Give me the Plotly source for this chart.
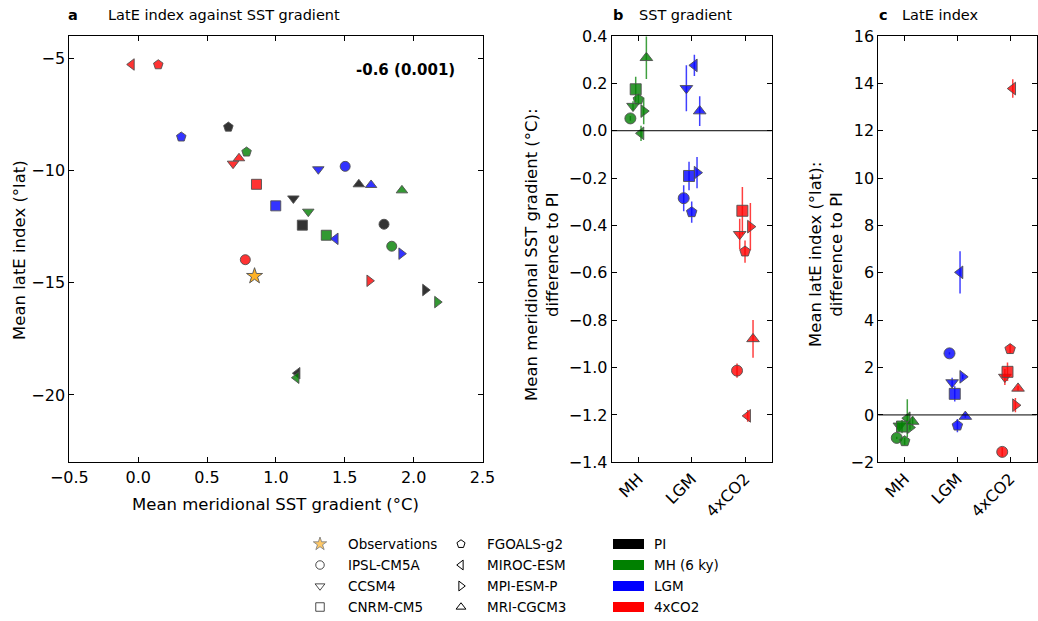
import plotly.graph_objects as go

W, H = 1038, 621
FONT = "DejaVu Sans"

# ---------------- data ----------------
models = ["IPSL-CM5A", "CCSM4", "CNRM-CM5", "FGOALS-g2", "MIROC-ESM", "MPI-ESM-P", "MRI-CGCM3"]
experiments = ["PI", "MH (6 ky)", "LGM", "4xCO2"]
categories = ["MH", "LGM", "4xCO2"]

# Panel a: mean meridional SST gradient (°C) and mean latE index (°lat), per model
a_grad_PI = [1.785, 1.127, 1.192, 0.655, 1.156, 2.084, 1.602]
a_late_PI = [-12.39, -11.24, -12.43, -8.06, -19.03, -15.32, -10.61]
a_grad_MH = [1.841, 1.235, 1.366, 0.787, 1.149, 2.171, 1.915]
a_late_MH = [-13.37, -11.83, -12.88, -9.17, -19.23, -15.86, -10.88]
a_grad_LGM = [1.503, 1.308, 0.999, 0.313, 1.433, 1.911, 1.691]
a_late_LGM = [-9.81, -9.94, -11.57, -8.50, -13.04, -13.70, -10.64]
a_grad_4x = [0.778, 0.689, 0.859, 0.146, -0.047, 1.679, 0.732]
a_late_4x = [-13.97, -9.69, -10.61, -5.28, -5.27, -14.91, -9.45]
obs_grad = [0.845]
obs_late = [-14.70]
corr_text = "-0.6 (0.001)"

# Panel b: SST gradient difference to PI (°C) and its uncertainty
b_MH = [0.052, 0.104, 0.175, 0.132, -0.011, 0.083, 0.308]
b_MH_err = [0.01, 0.02, 0.053, 0.02, 0.032, 0.056, 0.09]
b_LGM = [-0.285, 0.179, -0.191, -0.344, 0.276, -0.177, 0.083]
b_LGM_err = [0.055, 0.097, 0.06, 0.045, 0.045, 0.066, 0.063]
b_4x = [-1.013, -0.437, -0.338, -0.51, -1.204, -0.405, -0.879]
b_4x_err = [0.03, 0.065, 0.1, 0.047, 0.025, 0.1, 0.08]

# Panel c: latE index difference to PI (°lat) and its uncertainty
c_MH = [-0.97, -0.46, -0.49, -1.11, -0.14, -0.53, -0.28]
c_MH_err = [0.05, 0.1, 0.28, 0.15, 0.8, 0.1, 0.2]
c_LGM = [2.6, 1.37, 0.89, -0.45, 6.02, 1.61, -0.07]
c_LGM_err = [0.05, 0.2, 0.32, 0.28, 0.89, 0.1, 0.05]
c_4x = [-1.56, 1.6, 1.82, 2.78, 13.78, 0.41, 1.12]
c_4x_err = [0.2, 0.34, 0.39, 0.2, 0.39, 0.3, 0.1]

# ---------------- styles ----------------
symbols = ["circle", "triangle-down", "square", "pentagon", "triangle-left", "triangle-right", "triangle-up"]
fill = {"PI": "rgba(0,0,0,0.8)", "MH (6 ky)": "rgba(0,128,0,0.8)",
        "LGM": "rgba(0,0,255,0.8)", "4xCO2": "rgba(255,0,0,0.8)"}
solid = {"PI": "#000000", "MH (6 ky)": "#008000", "LGM": "#0000ff", "4xCO2": "#ff0000"}
errc = {"MH (6 ky)": "rgba(0,128,0,0.75)", "LGM": "rgba(0,0,255,0.75)", "4xCO2": "rgba(255,0,0,0.75)"}
dodge = [-0.15, -0.10, -0.05, 0.0, 0.05, 0.10, 0.15]
edge = "rgba(80,80,80,0.9)"


def px(x):
    return x / W


def py(y):
    return 1 - y / H


fig = go.Figure()

# Panel a
pa = [("PI", a_grad_PI, a_late_PI), ("MH (6 ky)", a_grad_MH, a_late_MH),
      ("LGM", a_grad_LGM, a_late_LGM), ("4xCO2", a_grad_4x, a_late_4x)]
for exp, gx, ly in pa:
    fig.add_trace(go.Scatter(
        x=gx, y=ly, mode="markers", xaxis="x", yaxis="y", showlegend=False,
        marker=dict(symbol=symbols, size=10, color=fill[exp],
                    line=dict(color=edge, width=1))))
fig.add_trace(go.Scatter(
    x=obs_grad, y=obs_late, mode="markers", xaxis="x", yaxis="y", showlegend=False,
    marker=dict(symbol="star", size=12, color="rgba(255,165,0,0.85)",
                line=dict(color=edge, width=1))))

# Panels b and c
for axn, series in (("2", [("MH (6 ky)", b_MH, b_MH_err), ("LGM", b_LGM, b_LGM_err), ("4xCO2", b_4x, b_4x_err)]),
                    ("3", [("MH (6 ky)", c_MH, c_MH_err), ("LGM", c_LGM, c_LGM_err), ("4xCO2", c_4x, c_4x_err)])):
    for ci, (exp, vals, errs) in enumerate(series):
        xs = [ci + d for d in dodge]
        fig.add_trace(go.Scatter(
            x=xs, y=vals, mode="markers", xaxis="x" + axn, yaxis="y" + axn, showlegend=False,
            error_y=dict(type="data", array=errs, visible=True, color=errc[exp], thickness=1.5, width=0),
            marker=dict(symbol=symbols, size=11, color=fill[exp],
                        line=dict(color=edge, width=1))))

# Legend on an overlay axis measured in pixels
leg_rows = [544, 565, 586, 607]
leg_col1 = ["Observations", "IPSL-CM5A", "CCSM4", "CNRM-CM5"]
leg_sym1 = ["star", "circle-open", "triangle-down-open", "square-open"]
leg_col2 = ["FGOALS-g2", "MIROC-ESM", "MPI-ESM-P", "MRI-CGCM3"]
leg_sym2 = ["pentagon-open", "triangle-left-open", "triangle-right-open", "triangle-up-open"]

fig.add_trace(go.Scatter(
    x=[320] * 4, y=leg_rows, mode="markers", xaxis="x4", yaxis="y4", showlegend=False, hoverinfo="skip",
    marker=dict(symbol=leg_sym1, size=[10, 8.5, 8.5, 8.5],
                color=["rgba(255,165,0,0.85)", "black", "black", "black"],
                line=dict(color=["rgba(80,80,80,0.9)", "black", "black", "black"], width=1))))
fig.add_trace(go.Scatter(
    x=[461] * 4, y=leg_rows, mode="markers", xaxis="x4", yaxis="y4", showlegend=False, hoverinfo="skip",
    marker=dict(symbol=leg_sym2, size=8.5, color="black", line=dict(color="black", width=1))))

LFS = 13.5
annotations = []
shapes = []
for i in range(4):
    annotations.append(dict(x=px(346), y=py(leg_rows[i]), text=leg_col1[i], xanchor="left", yanchor="middle",
                            font=dict(family=FONT, size=LFS, color="black")))
    annotations.append(dict(x=px(485), y=py(leg_rows[i]), text=leg_col2[i], xanchor="left", yanchor="middle",
                            font=dict(family=FONT, size=LFS, color="black")))
    annotations.append(dict(x=px(652), y=py(leg_rows[i]), text=experiments[i], xanchor="left", yanchor="middle",
                            font=dict(family=FONT, size=LFS, color="black")))
    shapes.append(dict(type="rect", xref="paper", yref="paper",
                       x0=px(613), x1=px(644), y0=py(leg_rows[i] + 5), y1=py(leg_rows[i] - 5),
                       fillcolor=solid[experiments[i]], line=dict(width=0)))

# Titles and labels
tfont = dict(family=FONT, size=14.5, color="black")
lfont = dict(family=FONT, size=16.5, color="black")
annotations += [
    dict(x=px(73), y=py(15), text="<b>a</b>", xanchor="center", yanchor="middle", font=tfont),
    dict(x=px(224), y=py(15), text="LatE index against SST gradient", xanchor="center", yanchor="middle", font=tfont),
    dict(x=px(618), y=py(15), text="<b>b</b>", xanchor="center", yanchor="middle", font=tfont),
    dict(x=px(637), y=py(15), text="SST gradient", xanchor="left", yanchor="middle", font=tfont),
    dict(x=px(883), y=py(15), text="<b>c</b>", xanchor="center", yanchor="middle", font=tfont),
    dict(x=px(900), y=py(15), text="LatE index", xanchor="left", yanchor="middle", font=tfont),
    dict(x=px(275), y=py(504), text="Mean meridional SST gradient (°C)", xanchor="center", yanchor="middle", font=lfont),
    dict(x=px(19), y=py(250), text="Mean latE index (°lat)", textangle=-90, xanchor="center", yanchor="middle", font=lfont),
    dict(x=px(542), y=py(255), text="Mean meridional SST gradient (°C):<br>difference to PI", textangle=-90,
         xanchor="center", yanchor="middle", font=lfont),
    dict(x=px(826), y=py(255), text="Mean latE index (°lat):<br>difference to PI", textangle=-90,
         xanchor="center", yanchor="middle", font=lfont),
    dict(x=px(405), y=py(70), text="<b>" + corr_text + "</b>", xanchor="center", yanchor="middle",
         font=dict(family=FONT, size=15, color="black")),
]
for a in annotations:
    a.setdefault("xref", "paper")
    a.setdefault("yref", "paper")
    a.setdefault("showarrow", False)

ax_common = dict(showline=True, linecolor="black", linewidth=1, mirror="ticks", ticks="inside",
                 ticklen=5, tickcolor="black", showgrid=False, zeroline=False, automargin=False,
                 tickfont=dict(family=FONT, size=16, color="black"))

ydom = [py(462.3), py(36)]
fig.update_layout(
    width=W, height=H, margin=dict(l=0, r=0, t=0, b=0, pad=0, autoexpand=False),
    paper_bgcolor="white", plot_bgcolor="rgba(0,0,0,0)", showlegend=False,
    font=dict(family=FONT, color="black"),
    xaxis=dict(domain=[px(69.3), px(482.5)], range=[-0.5, 2.5], dtick=0.5, tickformat=".1f",
               anchor="y", **ax_common),
    yaxis=dict(domain=ydom, range=[-23, -4], tickvals=[-20, -15, -10, -5], anchor="x", **ax_common),
    xaxis2=dict(domain=[px(611.7), px(771.7)], range=[-0.5, 2.5], tickvals=[0, 1, 2], ticktext=categories,
                tickangle=-45, anchor="y2", **ax_common),
    yaxis2=dict(domain=ydom, range=[-1.4, 0.4], dtick=0.2, tickformat=".1f", anchor="x2", **ax_common),
    xaxis3=dict(domain=[px(878.3), px(1036.5)], range=[-0.5, 2.5], tickvals=[0, 1, 2], ticktext=categories,
                tickangle=-45, anchor="y3", **ax_common),
    yaxis3=dict(domain=ydom, range=[-2, 16], dtick=2, anchor="x3", **ax_common),
    xaxis4=dict(domain=[0, 1], range=[0, W], visible=False, anchor="y4", fixedrange=True, automargin=False),
    yaxis4=dict(domain=[0, 1], range=[H, 0], visible=False, anchor="x4", fixedrange=True, automargin=False),
    annotations=annotations,
    shapes=shapes + [
        dict(type="line", xref="x2 domain", yref="y2", x0=0, x1=1, y0=0, y1=0, line=dict(color="black", width=1)),
        dict(type="line", xref="x3 domain", yref="y3", x0=0, x1=1, y0=0, y1=0, line=dict(color="black", width=1)),
    ],
)

fig.write_html("out.html", config={"displayModeBar": False},
               post_script="document.body.style.margin='0';document.body.style.overflow='hidden';")
